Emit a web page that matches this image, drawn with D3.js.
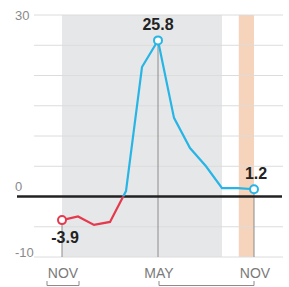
<!DOCTYPE html>
<html>
<head>
<meta charset="utf-8">
<script src="https://cdn.jsdelivr.net/npm/d3@7"></script>
<style>
  body { margin: 0; background: #fff; }
  .tick-label { font-family: "Liberation Sans Narrow", "Liberation Sans", sans-serif; fill: #8a8a8a; font-size: 13px; }
  .month-label { font-family: "Liberation Sans Narrow", "Liberation Sans", sans-serif; fill: #7a7a7a; font-size: 14px; }
  .value-label { font-family: "Liberation Sans Narrow", "Liberation Sans", sans-serif; font-weight: bold; fill: #222; font-size: 16px; }
</style>
</head>
<body>
<div id="chart"></div>
<script>
// months from one November to the next
var months = ["NOV", "DEC", "JAN", "FEB", "MAR", "APR", "MAY", "JUN", "JUL", "AUG", "SEP", "OCT", "NOV"];
var values = [-3.9, -3.3, -4.7, -4.2, 0.9, 21.4, 25.8, 13.0, 8.0, 5.0, 1.4, 1.4, 1.2];

// y gridlines and labels
var yTicks = [30, 25, 20, 15, 10, 5, 0, -5, -10];
var yLabels = [30, 0, -10];

// months that get a label, a drop line and a marker
var keyMonths = [0, 6, 12];
// shaded periods (month index ranges)
var grayBand = [0, 10];
var orangeBand = [11.05, 12];
// year brackets under the axis
var brackets = [[-1, 1], [6, 12]];

var width = 289, height = 287;

var x = d3.scaleLinear().domain([0, 12]).range([62, 254]);
var y = d3.scaleLinear().domain([-10, 30]).range([257, 15]);

var svg = d3.select("#chart").append("svg")
    .attr("width", width)
    .attr("height", height);

// shaded bands
svg.append("rect")
    .attr("x", x(grayBand[0]))
    .attr("y", y(30))
    .attr("width", x(grayBand[1]) - x(grayBand[0]))
    .attr("height", y(-10) - y(30))
    .attr("fill", "#e6e7e8");

svg.append("rect")
    .attr("x", x(orangeBand[0]))
    .attr("y", y(30))
    .attr("width", x(orangeBand[1]) - x(orangeBand[0]))
    .attr("height", y(-10) - y(30))
    .attr("fill", "#f6d3bb");

// gridlines
svg.selectAll(".grid")
    .data(yTicks.filter(function(d) { return d !== 0; }))
  .enter().append("line")
    .attr("class", "grid")
    .attr("x1", 34)
    .attr("x2", 283)
    .attr("y1", function(d) { return y(d); })
    .attr("y2", function(d) { return y(d); })
    .attr("stroke", "#dcdcdc")
    .attr("stroke-width", 1);

// y labels
svg.selectAll(".tick-label")
    .data(yLabels)
  .enter().append("text")
    .attr("class", "tick-label")
    .attr("x", 15)
    .attr("y", function(d) {
      if (d === 30) return y(d) + 5;
      if (d === -10) return y(d);
      return y(d) - 6;
    })
    .text(function(d) { return d; });

// drop lines for key months
svg.selectAll(".drop")
    .data(keyMonths)
  .enter().append("line")
    .attr("class", "drop")
    .attr("x1", function(i) { return x(i); })
    .attr("x2", function(i) { return x(i); })
    .attr("y1", function(i) { return y(values[i]); })
    .attr("y2", y(-10))
    .attr("stroke", "#8c8c8c")
    .attr("stroke-width", 1);

// zero line
svg.append("line")
    .attr("x1", 17)
    .attr("x2", 282)
    .attr("y1", y(0))
    .attr("y2", y(0))
    .attr("stroke", "#222")
    .attr("stroke-width", 2.5);

// line, red below zero and blue above
var defs = svg.append("defs");
defs.append("clipPath").attr("id", "above")
  .append("rect").attr("x", 0).attr("y", 0).attr("width", width).attr("height", y(0));
defs.append("clipPath").attr("id", "below")
  .append("rect").attr("x", 0).attr("y", y(0)).attr("width", width).attr("height", height - y(0));

var line = d3.line()
    .x(function(d, i) { return x(i); })
    .y(function(d) { return y(d); });

svg.append("path")
    .datum(values)
    .attr("clip-path", "url(#above)")
    .attr("fill", "none")
    .attr("stroke", "#27b5e6")
    .attr("stroke-width", 2.2)
    .attr("d", line);

svg.append("path")
    .datum(values)
    .attr("clip-path", "url(#below)")
    .attr("fill", "none")
    .attr("stroke", "#e53a4e")
    .attr("stroke-width", 2.2)
    .attr("d", line);

// markers
svg.selectAll(".marker")
    .data(keyMonths)
  .enter().append("circle")
    .attr("class", "marker")
    .attr("cx", function(i) { return x(i); })
    .attr("cy", function(i) { return y(values[i]); })
    .attr("r", 4)
    .attr("fill", "#fff")
    .attr("stroke", function(i) { return values[i] < 0 ? "#e53a4e" : "#27b5e6"; })
    .attr("stroke-width", 2);

// value labels
svg.selectAll(".value-label")
    .data(keyMonths)
  .enter().append("text")
    .attr("class", "value-label")
    .attr("text-anchor", "middle")
    .attr("x", function(i) { return x(i) + (i === 0 ? 3 : (i === 12 ? 2 : 0)); })
    .attr("y", function(i) { return values[i] < 0 ? y(values[i]) + 23 : y(values[i]) - 10; })
    .text(function(i) { return values[i]; });

// month labels
svg.selectAll(".month-label")
    .data(keyMonths)
  .enter().append("text")
    .attr("class", "month-label")
    .attr("text-anchor", "middle")
    .attr("x", function(i) { return x(i) + 1; })
    .attr("y", 278)
    .text(function(i) { return months[i]; });

// year brackets
brackets.forEach(function(b) {
  var x1 = b[0] < 0 ? 47 : x(b[0]) + 1,
      x2 = b[0] < 0 ? 79 : x(b[1]);
  svg.append("path")
      .attr("d", "M" + x1 + ",281V285.5H" + x2 + "V281")
      .attr("fill", "none")
      .attr("stroke", "#8c8c8c")
      .attr("stroke-width", 1);
});
</script>
</body>
</html>
